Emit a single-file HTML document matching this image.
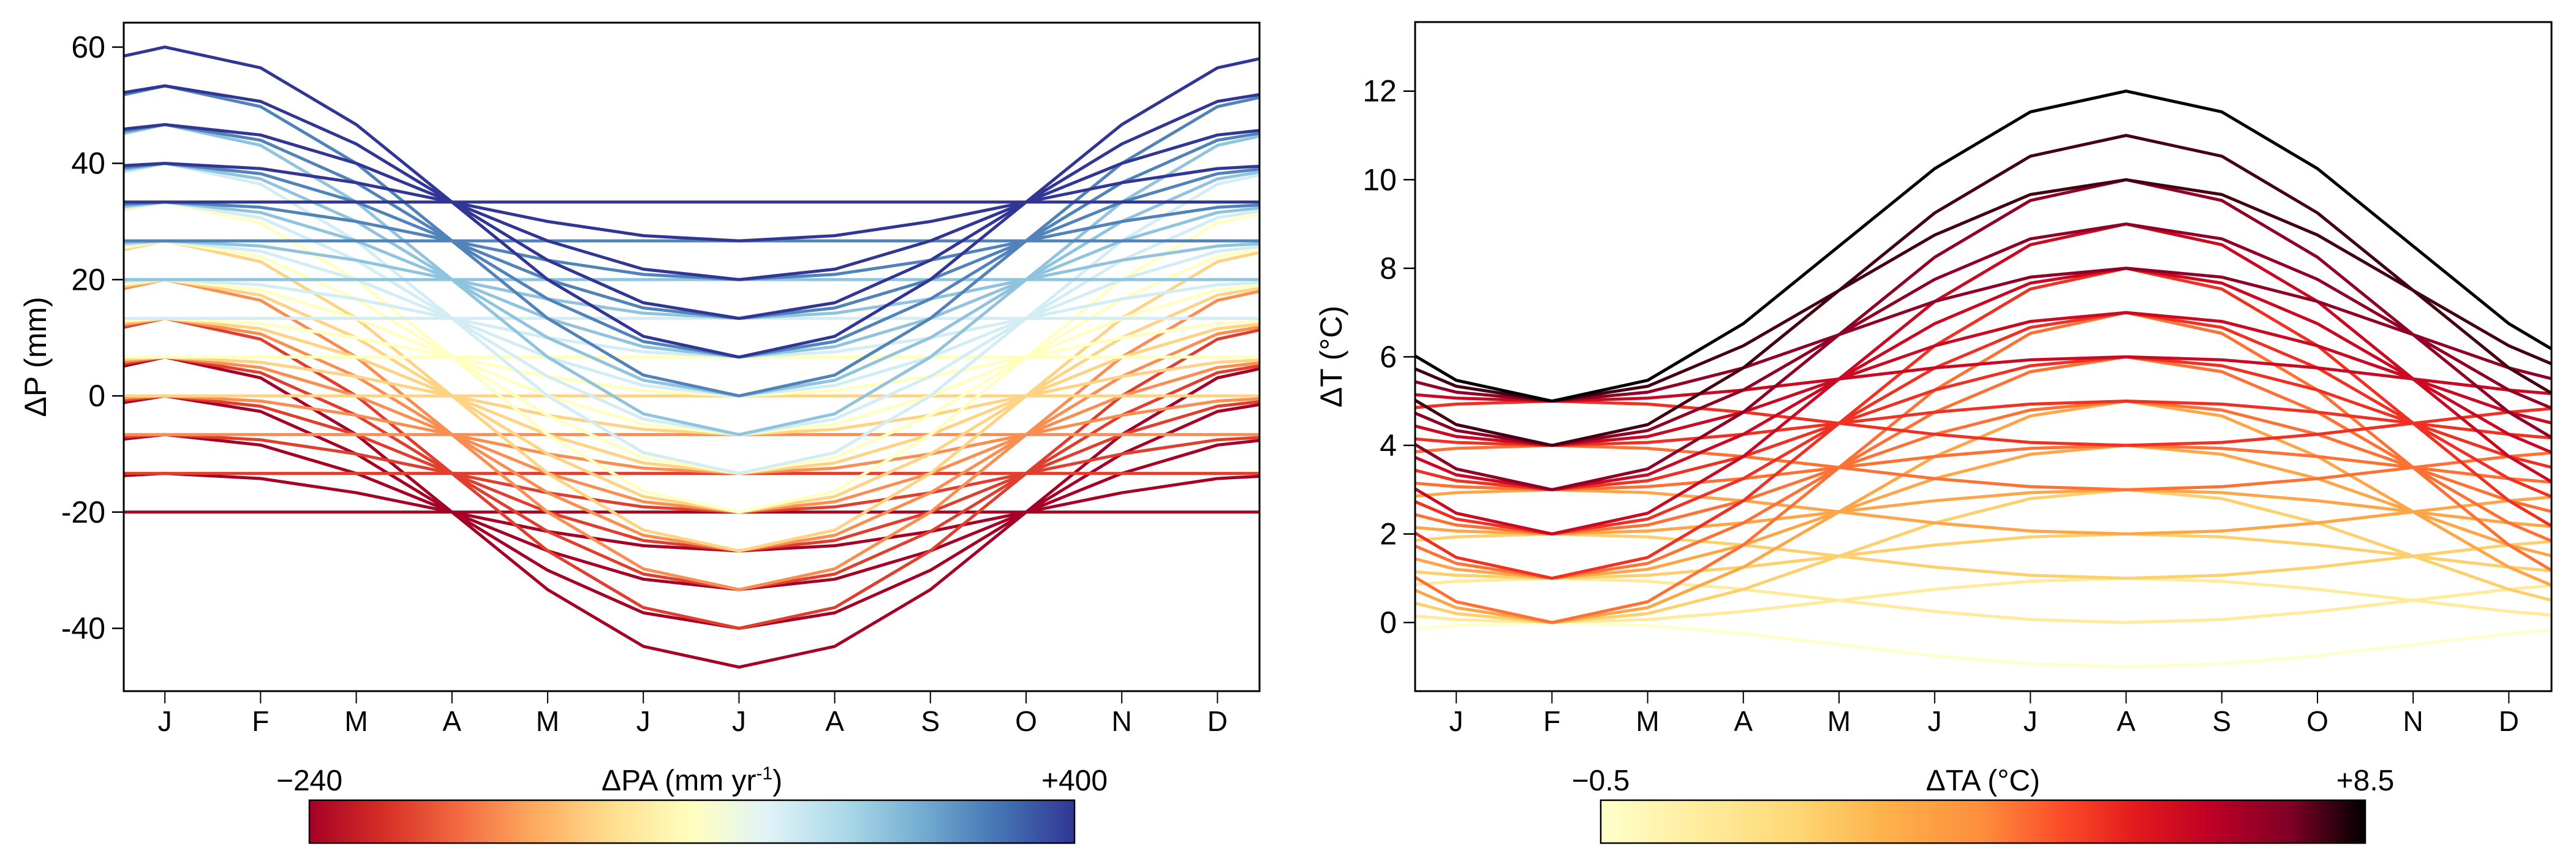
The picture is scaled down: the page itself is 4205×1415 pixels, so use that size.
<!DOCTYPE html>
<html><head><meta charset="utf-8"><style>
html,body{margin:0;padding:0;background:#fff;}
svg{display:block;font-family:"Liberation Sans",sans-serif;}
</style></head><body>
<svg id="fig" width="4205" height="1415" viewBox="0 0 4205 1415" xmlns="http://www.w3.org/2000/svg">
<defs>
<linearGradient id="gP" x1="0" x2="1" y1="0" y2="0">
<stop offset="0" stop-color="#a50026"/><stop offset="0.1" stop-color="#d73027"/><stop offset="0.2" stop-color="#f46d43"/><stop offset="0.3" stop-color="#fdae61"/><stop offset="0.4" stop-color="#fee090"/><stop offset="0.5" stop-color="#ffffbf"/><stop offset="0.6" stop-color="#e0f3f8"/><stop offset="0.7" stop-color="#abd9e9"/><stop offset="0.8" stop-color="#74add1"/><stop offset="0.9" stop-color="#4575b4"/><stop offset="1" stop-color="#313695"/>
</linearGradient>
<linearGradient id="gT" x1="0" x2="1" y1="0" y2="0">
<stop offset="0" stop-color="#ffffcc"/><stop offset="0.12" stop-color="#ffeda0"/><stop offset="0.25" stop-color="#fed976"/><stop offset="0.37" stop-color="#feb24c"/><stop offset="0.5" stop-color="#fd8d3c"/><stop offset="0.6" stop-color="#fc4e2a"/><stop offset="0.7" stop-color="#e31a1c"/><stop offset="0.8" stop-color="#bd0026"/><stop offset="0.9" stop-color="#800026"/><stop offset="1" stop-color="#000000"/>
</linearGradient>
<clipPath id="cl"><rect x="202" y="37" width="1854" height="1091"/></clipPath>
<clipPath id="cr"><rect x="2310" y="36" width="1855" height="1092"/></clipPath>
</defs>
<g id="left"></g>
<g id="right"></g>
</svg>
<script>
const months = ["J","F","M","A","M","J","J","A","S","O","N","D"];
const annualPA = [-240,-160,-80,0,80,160,240,320,400];
const seasonalAmpP = [0,6.667,13.333,20,26.667];
const pTicks = [-40,-20,0,20,40,60];
const febTemps = [0,1,2,3,4,5];
const augOffsets = [-1,1,3,5,7];
const tTicks = [0,2,4,6,8,10,12];

const NS="http://www.w3.org/2000/svg";
function mk(tag,attrs,parent,txt){const e=document.createElementNS(NS,tag);for(const k in attrs)e.setAttribute(k,attrs[k]);if(txt!==undefined)e.textContent=txt;parent.appendChild(e);return e;}
function lerpCol(stops,t){t=Math.max(0,Math.min(1,t));const n=stops.length-1;const i=Math.min(n-1,Math.floor(t*n));const f=t*n-i;const a=stops[i],b=stops[i+1];
 const h=s=>[parseInt(s.substr(1,2),16),parseInt(s.substr(3,2),16),parseInt(s.substr(5,2),16)];const A=h(a),B=h(b);
 return "rgb("+A.map((v,k)=>Math.round(v+(B[k]-v)*f)).join(",")+")";}
const pStops=["#a50026","#d73027","#f46d43","#fdae61","#fee090","#ffffbf","#e0f3f8","#abd9e9","#74add1","#4575b4","#313695"];
const tStops=["#ffffcc","#ffeda0","#fed976","#feb24c","#fd8d3c","#fc4e2a","#e31a1c","#bd0026","#800026","#3a0010","#000000"];

function panel(g,o){
  const xS=m=>o.x0+(m+0.43)*156.2;
  const yS=v=>o.y0+(v-o.ymax)/(o.ymin-o.ymax)*(o.y1-o.y0);
  const lines=mk("g",{"clip-path":"url(#"+o.clip+")"},g);
  
  
  o.series.forEach(s=>{
    const pts=[];for(let m=-1;m<=12;m++)pts.push(xS(m).toFixed(1)+","+yS(s.f(m)).toFixed(1));
    const p=mk("polyline",{points:pts.join(" "),fill:"none",stroke:s.c,"stroke-width":o.sw,"stroke-linejoin":"round"},lines);
    
    
  });
  const fr=mk("rect",{x:o.x0,y:o.y0,width:o.x1-o.x0,height:o.y1-o.y0,fill:"none",stroke:"#000","stroke-width":3},g);
  
  
  o.ticks.forEach(t=>{
    const y=yS(t);
    mk("line",{x1:o.x0-19,x2:o.x0,y1:y,y2:y,stroke:"#000","stroke-width":2.5},g);
    const tx=mk("text",{x:o.x0-30,y:y+17,"text-anchor":"end","font-size":50},g,String(t));
    
    
  });
  months.forEach((mn,i)=>{
    const x=xS(i);
    mk("line",{x1:x,x2:x,y1:o.y1,y2:o.y1+20,stroke:"#000","stroke-width":2},g);
    const tx=mk("text",{x:x,y:1193,"text-anchor":"middle","font-size":46},g,mn);
    
    
  });
  const yt=mk("text",{x:0,y:0,"text-anchor":"middle","font-size":50,transform:"translate("+(o.tx)+","+((o.y0+o.y1)/2)+") rotate(-90)"},g,o.title);
  
  
  const cb=mk("rect",{x:o.cb[0],y:1306,width:o.cb[1]-o.cb[0],height:70,fill:o.grad,stroke:"#000","stroke-width":2.5},g);
  
  
  const l1=mk("text",{x:o.cb[0],y:1290,"text-anchor":"middle","font-size":48},g,o.cbl[0]);
  
  
  const l2=mk("text",{x:o.cb[1],y:1290,"text-anchor":"middle","font-size":48},g,o.cbl[1]);
  
  
  const ct=mk("text",{x:(o.cb[0]+o.cb[1])/2,y:1290,"text-anchor":"middle","font-size":48},g);
  ct.innerHTML=o.cbt;
  
  
}

const pSeries=[];
annualPA.forEach(pa=>{seasonalAmpP.forEach(a=>{
  const mean=pa/12;
  pSeries.push({c:lerpCol(pStops,(pa+240)/640),f:m=>mean+a*Math.cos(Math.PI*m/6)});
});});
panel(document.getElementById("left"),{x0:202,x1:2056,y0:37,y1:1128,ymin:-50.8,ymax:64.2,clip:"cl",sw:5,series:pSeries,ticks:pTicks,
  tx:75,title:"ΔP (mm)",cb:[505,1754],grad:"url(#gP)",cbl:["\u2212240","+400"],cbt:'ΔPA (mm yr<tspan dy="-18" font-size="30">-1</tspan><tspan dy="18">)</tspan>'});

const tSeries=[];
febTemps.forEach(a=>{augOffsets.forEach(d=>{
  const b=a+d, mean=(a+b)/2, amp=(b-a)/2;
  tSeries.push({mean:mean,c:lerpCol(tStops,(mean+0.5)/9),f:m=>mean-amp*Math.cos(Math.PI*(m-1)/6)});
});});
tSeries.sort((p,q)=>p.mean-q.mean);
panel(document.getElementById("right"),{x0:2310,x1:4165,y0:36,y1:1128,ymin:-1.55,ymax:13.56,clip:"cr",sw:5,series:tSeries,ticks:tTicks,
  tx:2190,title:"ΔT (°C)",cb:[2613,3861],grad:"url(#gT)",cbl:["\u22120.5","+8.5"],cbt:'ΔTA (°C)'});
</script>
</body></html>
